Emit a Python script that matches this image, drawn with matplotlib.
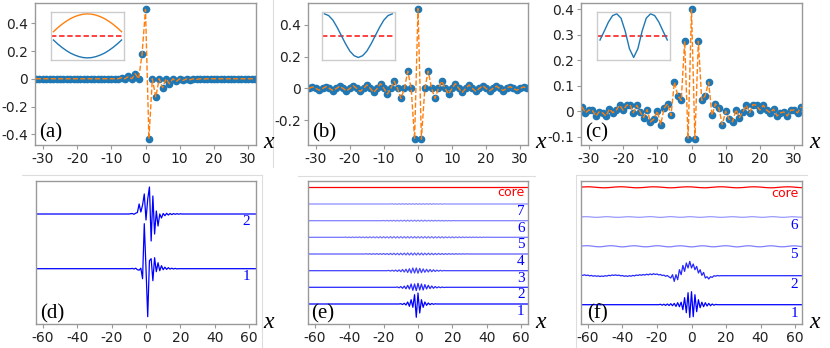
import numpy as np
import matplotlib
matplotlib.use("Agg")
import matplotlib.pyplot as plt
from matplotlib.lines import Line2D
from matplotlib.ticker import FuncFormatter

plt.rcParams['axes.unicode_minus'] = False
plt.rcParams['font.family'] = ['DejaVu Sans']

W, H = 830, 348
SERIF = 'Liberation Serif'
SPINE = '#999999'

# ===============================
# Top row: lattice amplitudes, n = -32..32
# ===============================
n_top = np.arange(-32, 33)

a_vals = [0] * 25 + [0.008, 0, 0.017, 0, 0.036, 0, 0.179, 0.5, -0.433, 0, -0.131, 0, -0.064, 0,
                     -0.036, 0, -0.019, 0, -0.012, 0, -0.007, 0, -0.004, 0, -0.002] + [0] * 15

b_vals = [0, 0.01, 0, -0.011, 0, 0.012, 0, -0.013, 0, 0.014, 0, -0.015, 0, 0.017, 0, -0.019,
          0, 0.022, 0, -0.025, 0, 0.03, 0, -0.035, 0, 0.046, 0, -0.0625, 0, 0.108, 0, -0.317,
          0.5,
          -0.317, 0, 0.108, 0, -0.0625, 0, 0.046, 0, -0.035, 0, 0.03, 0, -0.025, 0, 0.022, 0,
          -0.019, 0, 0.017, 0, -0.015, 0, 0.014, 0, -0.013, 0, 0.012, 0, -0.011, 0, 0.01, 0]

c_vals = [0.017, -0.0065, 0.004, 0.004, -0.019, -0.003, -0.0065, -0.019, 0.008, -0.006, 0.004,
          0.023, 0.004, 0.023, 0.026, -0.006, 0.023, -0.003, -0.025, 0.006, -0.042, -0.031,
          0.0, -0.053, 0.012, 0.029, -0.017, 0.114, 0.061, 0.042, 0.275, -0.109,
          0.4,
          -0.109, 0.275, 0.042, 0.061, 0.114, -0.017, 0.029, 0.012, -0.053, 0.0, -0.031, -0.042,
          0.006, -0.025, -0.003, 0.023, -0.006, 0.026, 0.023, 0.004, 0.023, 0.004, -0.006, 0.008,
          -0.019, -0.0065, -0.003, -0.019, 0.004, 0.004, -0.0065, 0.017]

a_yticks = [-0.4, -0.2, 0, 0.2, 0.4]
b_yticks = [-0.2, 0, 0.2, 0.4]
c_yticks = [-0.1, 0, 0.1, 0.2, 0.3, 0.4]
top_xticks = [-30, -20, -10, 0, 10, 20, 30]

# inset band sketches, k/pi = -1..1
kx = np.linspace(-1, 1, 17)
ins_a_upper = [0.18, 0.36, 0.52, 0.66, 0.78, 0.87, 0.94, 0.985, 1.0,
               0.985, 0.94, 0.87, 0.78, 0.66, 0.52, 0.36, 0.18]
ins_a_lower = [-0.2, -0.38, -0.54, -0.68, -0.8, -0.89, -0.96, -1.005, -1.02,
               -1.005, -0.96, -0.89, -0.8, -0.68, -0.54, -0.38, -0.2]
ins_b = [1.0, 0.92, 0.71, 0.38, 0.0, -0.38, -0.71, -0.92, -1.0,
         -0.92, -0.71, -0.38, 0.0, 0.38, 0.71, 0.92, 1.0]
ins_c = [-0.2, 0.2, 0.62, 0.92, 1.0, 0.8, 0.2, -0.6, -1.0,
         -0.6, 0.2, 0.8, 1.0, 0.92, 0.62, 0.2, -0.2]

# ===============================
# Bottom row: mode profiles, n = -64..64 (values in px-like units)
# ===============================
n_bot = np.arange(-64, 65)
n_even = np.arange(-64, 65, 2)

d1_seg = (-8, [0.3, -0.3, 0.5, -1, -1.5, 0.5, -10, 45, 0, -48, 8, 10, -12, 11, -3, 6, -2, 3,
               -1, 1.5, -0.7, 1, -0.4, 0.5, -0.3, 0.3, -0.2])
d2_seg = (-9, [0.3, 0.5, -0.3, 0.8, 1.5, 10, 2, 9, 20, -6, 15, 27, -27, 18, -20, 3, -12, 0, -4,
               0.5, -1.7, 0.7, -1, 0.5, -0.6, 0.4, -0.3, 0.3, -0.2, 0.2])

e1_seg = (-10, [0.3, -0.5, 0.7, -1, 2, -2.3, 4.3, -3.3, 9.3, -13.3, 11, -9, 4.3, -3.3, 2, -1.3,
                1, -0.7, 0.5, -0.3, 0.2])
e2_seg = (-12, [0.3, -0.5, 0.8, -1, 1.2, -1.5, 2, -1.7, 3.3, -3,
                3.3, -3.3, 4, -2.7, 3.3, -2.7, 2.7, -1.7, 2, -1.3,
                1.3, -1, 0.8, -0.6, 0.5, -0.4, 0.3, -0.2])
e3_seg = (-17, [0.3, -0.4, 0.5, -0.5, 0.6, -0.7, 0.8, -1, 1.2, -1.3,
                1.5, -1.8, 2, -2.3, 2.7, -2.3, 2.7, -2.5, 2.3, -2,
                1.8, -1.6, 1.4, -1.3, 1.2, -1, 0.9, -0.8, 0.6, -0.5,
                0.4, -0.3, 0.2])
e4_seg = (-30, [0.2, -0.2, 0.3, -0.3, 0.3, -0.3, 0.4, -0.4, 0.4, -0.4,
                0.5, -0.5, 0.5, -0.6, 0.6, -0.6, 0.7, -0.7, 0.7, -0.8,
                0.8, -0.8, 0.9, -0.9, 1.0, -1.0, 1.0, -1.0, 1.0, -1.0,
                1.0, -0.9, 0.9, -0.9, 0.8, -0.8, 0.8, -0.7, 0.7, -0.7,
                0.6, -0.6, 0.6, -0.5, 0.5, -0.5, 0.4, -0.4, 0.4, -0.3,
                0.3, -0.3, 0.3, -0.2, 0.2, -0.2, 0.2, -0.1, 0.1])
e5_seg = (-42, [0.2, -0.2, 0.2, -0.3, 0.3, -0.3, 0.3, -0.3, 0.4, -0.4,
                0.4, -0.4, 0.4, -0.5, 0.5, -0.5, 0.5, -0.5, 0.5, -0.6,
                0.6, -0.6, 0.6, -0.6, 0.6, -0.7, 0.7, -0.7, 0.7, -0.7,
                0.7, -0.7, 0.7, -0.7, 0.7, -0.7, 0.7, -0.7, 0.7, -0.7,
                0.7, -0.7, 0.7, -0.7, 0.7, -0.7, 0.7, -0.7, 0.7, -0.7,
                0.7, -0.7, 0.6, -0.6, 0.6, -0.6, 0.6, -0.6, 0.5, -0.5,
                0.5, -0.5, 0.5, -0.5, 0.4, -0.4, 0.4, -0.4, 0.4, -0.3,
                0.3, -0.3, 0.3, -0.3, 0.3, -0.2, 0.2, -0.2, 0.2, -0.2,
                0.2, -0.1, 0.1])
e6_seg = (-20, [0.2, -0.2, 0.3, -0.3, 0.3, -0.3, 0.4, -0.4, 0.4, -0.4,
                0.4, -0.4, 0.5, -0.5, 0.5, -0.5, 0.5, -0.5, 0.5, -0.5,
                0.5, -0.5, 0.5, -0.5, 0.5, -0.4, 0.4, -0.4, 0.4, -0.4,
                0.4, -0.3, 0.3, -0.3, 0.3, -0.3, 0.2, -0.2, 0.2, -0.2, 0.1])
e7_seg = (-15, [0.2, -0.2, 0.2, -0.3, 0.3, -0.3, 0.3, -0.3, 0.3, -0.3,
                0.3, -0.3, 0.3, -0.3, 0.3, -0.3, 0.3, -0.3, 0.3, -0.3,
                0.3, -0.3, 0.3, -0.3, 0.3, -0.2, 0.2, -0.2, 0.2, -0.2, 0.1])

f1_seg = (-18, [0.4, -0.5, 0.5, -0.7, 0.7, -0.8, 1.0, -1.0,
                1.3, -1.7, 2, -2, 2.5,
                -5, 7, -8,
                12, -12.7, 13, -12, 10,
                -7, 5, -3,
                2.5, -2, 2, -1.3, 1.3,
                -1, 0.7, -0.5, 0.3])
f2_seg = (-64, [0.8, 0.3, 0.9, 0.2, 0.6, -0.2, 0.3, -0.5, 0, -0.6,
                -0.2, -0.8, -0.3, -0.7, 0, -0.4, 0.4, 0, 0.7, 0.3,
                0.8, 0.2, 0.6, -0.2, 0.2, -0.6, -0.1, -0.7, 0, -0.5,
                0.3, -0.2, 0.7, 0.2, 1, 0.4, 1.2, 0.6, 1.5, 0.8,
                1.8, 1, 2, 1.2, 1.7, 0.8, 1.2, 0.2, 0.6, -0.6,
                0.2, -1.2,
                -2.3, 1, -5.7, 1, -4, 6, 1, 10.3, 4.3, 12.7,
                7.7, 14.3, 7.7, 11.7, 6, 9.3, 2.7, 6, 0.3, 3.3,
                -2.3, -1, -3.3, -1, -1.7, 0, -0.5, 0.2, -0.2, 0])
# slow undulations, sampled every second site
f5_even = [0.2, 0.5, 0.6, 0.3, -0.2, -0.5, -0.4, 0.1, 0.5, 0.6, 0.2, -0.3, -0.6, -0.3, 0.2, 0.5,
           0.5, 0.0, -0.4, -0.5, -0.2, 0.3, 0.6, 0.4, -0.1, -0.5, -0.5, 0.0, 0.4, 0.5, 0.2, -0.3,
           -0.6, -0.3, 0.2, 0.5, 0.4, -0.1, -0.5, -0.4, 0.0, 0.4, 0.6, 0.3, -0.2, -0.6, -0.4, 0.1,
           0.5, 0.5, 0.0, -0.4, -0.5, -0.2, 0.3, 0.5, 0.3, -0.2, -0.5, -0.4, 0.0, 0.4, 0.5, 0.1, -0.3]
f6_even = [0.1, 0.3, 0.3, 0.0, -0.3, -0.3, 0.0, 0.3, 0.3, 0.0, -0.3, -0.3, -0.1, 0.2, 0.3, 0.1,
           -0.2, -0.3, -0.1, 0.2, 0.4, 0.2, -0.2, -0.4, -0.2, 0.2, 0.4, 0.2, -0.2, -0.3, -0.1, 0.3,
           0.3, 0.0, -0.3, -0.3, 0.0, 0.3, 0.3, 0.0, -0.3, -0.3, -0.1, 0.2, 0.3, 0.1, -0.2, -0.3,
           -0.1, 0.3, 0.3, 0.0, -0.3, -0.3, 0.0, 0.3, 0.3, 0.0, -0.3, -0.3, 0.0, 0.3, 0.2, -0.1, -0.2]
fcore_even = [0.2, 0.4, 0.5, 0.4, 0.1, -0.2, -0.4, -0.5, -0.3, 0.0, 0.3, 0.5, 0.5, 0.3, 0.0,
              -0.3, -0.5, -0.4, -0.2, 0.1, 0.4, 0.5, 0.4, 0.2, -0.1, -0.4, -0.5, -0.4, -0.1, 0.2,
              0.4, 0.5, 0.4, 0.1, -0.2, -0.4, -0.5, -0.3, 0.0, 0.3, 0.5, 0.5, 0.3, 0.0, -0.3,
              -0.5, -0.4, -0.2, 0.1, 0.4, 0.5, 0.4, 0.2, -0.1, -0.4, -0.5, -0.4, -0.1, 0.2, 0.4,
              0.5, 0.4, 0.1, -0.2, -0.4]

bot_xticks = [-60, -40, -20, 0, 20, 40, 60]


def wave(seg):
    start, vals = seg
    y = np.zeros(len(n_bot))
    i = start + 64
    y[i:i + len(vals)] = vals
    return y


fig = plt.figure(figsize=(W / 100, H / 100), dpi=100)


def px_axes(x0, x1, y0, y1):
    return fig.add_axes([x0 / W, 1 - y1 / H, (x1 - x0) / W, (y1 - y0) / H])


def style(ax):
    for s in ax.spines.values():
        s.set_color(SPINE)
        s.set_linewidth(1.0)
    ax.tick_params(colors=SPINE, labelcolor='#222222', length=3, width=0.8, labelsize=10, pad=2)


fmt = FuncFormatter(lambda v, p: '0' if abs(v) < 1e-9 else f'{v:g}')

# ----- top panels -----
top_x = [(35, 256), (308, 528), (581, 802)]
top_data = [(a_vals, (-0.477, 0.546), a_yticks, '(a)'),
            (b_vals, (-0.354, 0.535), b_yticks, '(b)'),
            (c_vals, (-0.133, 0.425), c_yticks, '(c)')]
for (x0, x1), (vals, ylim, yt, lab) in zip(top_x, top_data):
    ax = px_axes(x0, x1, 3, 145)
    ax.plot(n_top, vals, 'o', color='#1f77b4', ms=4.5, zorder=2)
    ax.plot(n_top, vals, '--', color='#ff7f0e', lw=1.0, zorder=3)
    ax.set_xlim(-32.3, 32.3)
    ax.set_ylim(*ylim)
    ax.set_xticks(top_xticks)
    ax.set_yticks(yt)
    ax.yaxis.set_major_formatter(fmt)
    style(ax)
    ax.text(0.018, 0.055, lab, transform=ax.transAxes, family=SERIF, fontsize=15,
            ha='left', va='baseline')
    fig.text((x1 + 12.5) / W, 1 - 148 / H, 'x', family=SERIF, style='italic', fontsize=17,
             ha='center', va='baseline')

# insets
ins_x = [(50.7, 124.3), (321.7, 395), (597.3, 670)]
ins_curves = [[(ins_a_upper, '#ff7f0e'), (ins_a_lower, '#1f77b4')],
              [(ins_b, '#1f77b4')],
              [(ins_c, '#1f77b4')]]
for (x0, x1), curves in zip(ins_x, ins_curves):
    ins = px_axes(x0, x1, 12.3, 60.3)
    ins.set_xticks([])
    ins.set_yticks([])
    for s in ins.spines.values():
        s.set_color('#cccccc')
        s.set_linewidth(1.0)
    ins.axhline(0, color='#ff3333', ls='--', lw=1.3, dashes=(3, 1.5))
    for yv, col in curves:
        ins.plot(kx, yv, color=col, lw=1.0)
    ins.set_xlim(-1.08, 1.08)
    ins.set_ylim(-1.13, 1.07)

# ----- bottom panels -----
BLUE = '#0000ff'
RED = '#ff0000'

# (d)
ax = px_axes(36, 256, 181, 324)
d_base = [55.3, 110]
for base, seg, lab in zip(d_base, [d1_seg, d2_seg], ['1', '2']):
    ax.plot(n_bot, base + wave(seg), color=BLUE, lw=0.9)
    ax.text(0.955, base - 8, lab, transform=ax.get_yaxis_transform(), family=SERIF,
            fontsize=11, color=BLUE, ha='center', va='center')

# (e)
ax_e = px_axes(308, 528, 181, 324)
e_base = [20, 36.7, 53.3, 70, 86.7, 103.3, 120]
e_segs = [e1_seg, e2_seg, e3_seg, e4_seg, e5_seg, e6_seg, e7_seg]
e_alpha = [1.0, 0.85, 0.75, 0.65, 0.55, 0.5, 0.45]
for k, (base, seg, al) in enumerate(zip(e_base, e_segs, e_alpha)):
    ax_e.plot(n_bot, base + wave(seg), color=BLUE, lw=0.9, alpha=al)
    ax_e.text(0.967, base - 7.5, str(k + 1), transform=ax_e.get_yaxis_transform(), family=SERIF,
              fontsize=11, color=BLUE, ha='center', va='center')
ax_e.plot(n_bot, np.full(len(n_bot), 136.7), color=RED, lw=0.9)
ax_e.text(0.985, 136.7 - 5.5, 'core', transform=ax_e.get_yaxis_transform(), fontsize=9,
          color=RED, ha='right', va='center')

# (f)
ax_f = px_axes(581, 802, 181, 324)
ax_f.plot(n_bot, 19.3 + wave(f1_seg), color=BLUE, lw=0.9)
ax_f.plot(n_bot, 48.3 + wave(f2_seg), color=BLUE, lw=0.9, alpha=0.85)
ax_f.plot(n_even, 77.7 + np.array(f5_even), color=BLUE, lw=0.9, alpha=0.5)
ax_f.plot(n_even, 107 + np.array(f6_even), color=BLUE, lw=0.9, alpha=0.4)
ax_f.plot(n_even, 136.7 + np.array(fcore_even), color=RED, lw=0.9)
for base, lab in zip([19.3, 48.3, 77.7, 107], ['1', '2', '5', '6']):
    ax_f.text(0.964, base - 8.5, lab, transform=ax_f.get_yaxis_transform(), family=SERIF,
              fontsize=11, color=BLUE, ha='center', va='center')
ax_f.text(0.985, 136.7 - 6.7, 'core', transform=ax_f.get_yaxis_transform(), fontsize=9,
          color=RED, ha='right', va='center')

bot_labels = ['(d)', '(e)', '(f)']
bot_lab_x = [0.018, 0.012, 0.026]
bot_x = [(36, 256), (308, 528), (581, 802)]
for ax, lab, lx, (x0, x1) in zip(fig.axes[-3:], bot_labels, bot_lab_x, bot_x):
    ax.set_xlim(-64, 64)
    ax.set_ylim(0, 143)
    ax.set_xticks(bot_xticks)
    ax.set_yticks([])
    style(ax)
    ax.text(lx, 0.042, lab, transform=ax.transAxes, family=SERIF, fontsize=15,
            ha='left', va='baseline')
    fig.text((x1 + 12.5) / W, 1 - 328 / H, 'x', family=SERIF, style='italic', fontsize=17,
             ha='center', va='baseline')

# faint separators left over from the panel montage
sep = [((272.7, 272.7), (0, 167)),
       ((22, 262), (175, 175)), ((262.3, 262.3), (175, 348)),
       ((298, 535), (176, 176)),
       ((577, 807), (175, 175)), ((576, 576), (175, 347))]
for xs, ys in sep:
    fig.add_artist(Line2D([x / W for x in xs], [1 - y / H for y in ys], color='#dddddd', lw=0.8))

fig.savefig('out.png', dpi=100)
